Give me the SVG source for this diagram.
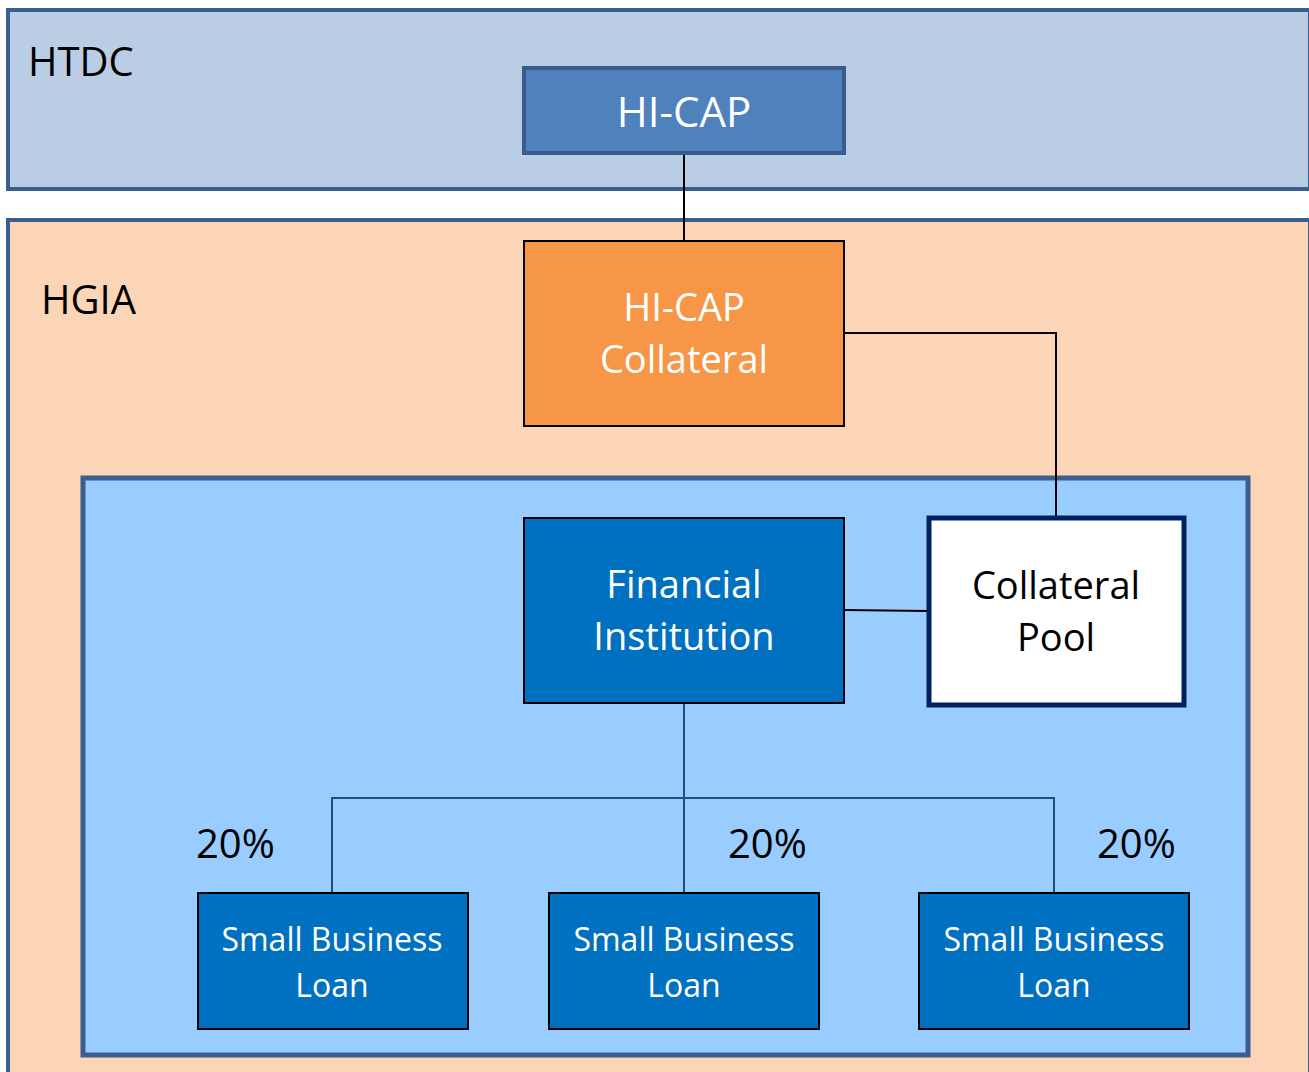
<svg xmlns="http://www.w3.org/2000/svg" width="1309" height="1072" viewBox="0 0 1309 1072">
<style>
text{font-family:"Open Sans","Liberation Sans",sans-serif;}
.w{fill:#fff;text-anchor:middle;}
.k{fill:#000;}
.big{font-size:38px;}
.sm{font-size:32px;}
.lbl{font-size:40px;}
.conn{fill:none;stroke:#000;stroke-width:2;}
.conn2{fill:none;stroke:#1f4e79;stroke-width:2;}
.box{fill:#0070c0;stroke:#000;stroke-width:2;}
</style>
<rect width="1309" height="1072" fill="#fff"/>
<g id="htdc">
<rect x="8" y="10" width="1302" height="179" fill="#b9cde5" stroke="#3a5f8f" stroke-width="4"/>
<text x="28" y="76" class="k lbl">HTDC</text>
</g>
<g id="hgia">
<rect x="8" y="220" width="1302" height="860" fill="#fbd5b5" stroke="#3a5f8f" stroke-width="4"/>
<text x="41" y="314" class="k lbl">HGIA</text>
</g>
<g id="inner">
<rect x="83" y="478" width="1165" height="577" fill="#99ccff" stroke="#3a5f8f" stroke-width="5"/>
</g>
<g id="connectors">
<line x1="684" y1="154" x2="684" y2="241" class="conn"/>
<polyline points="844,333 1056,333 1056,518" class="conn"/>
<line x1="844" y1="610" x2="928" y2="611" class="conn"/>
<line x1="684" y1="703" x2="684" y2="892" class="conn2"/>
<polyline points="332,892 332,798 1054,798 1054,892" class="conn2"/>
</g>
<g id="hicap">
<rect x="524" y="68" width="320" height="85" fill="#4f81bd" stroke="#385d8a" stroke-width="4"/>
<text x="684" y="127" class="w" font-size="42">HI-CAP</text>
</g>
<g id="hicap-collateral">
<rect x="524" y="241" width="320" height="185" fill="#f79646" stroke="#000" stroke-width="2"/>
<text x="684" y="321" class="w big">HI-CAP</text>
<text x="684" y="373" class="w big">Collateral</text>
</g>
<g id="financial-institution">
<rect x="524" y="518" width="320" height="185" class="box"/>
<text x="684" y="598" class="w big">Financial</text>
<text x="684" y="650" class="w big">Institution</text>
</g>
<g id="collateral-pool">
<rect x="929" y="518" width="255" height="187" fill="#fff" stroke="#002060" stroke-width="5"/>
<text x="1056" y="599" class="big" text-anchor="middle" fill="#000">Collateral</text>
<text x="1056" y="651" class="big" text-anchor="middle" fill="#000">Pool</text>
</g>
<g id="loan1">
<rect x="198" y="893" width="270" height="136" class="box"/>
<text x="332" y="951" class="w sm">Small Business</text>
<text x="332" y="997" class="w sm">Loan</text>
</g>
<g id="loan2">
<rect x="549" y="893" width="270" height="136" class="box"/>
<text x="684" y="951" class="w sm">Small Business</text>
<text x="684" y="997" class="w sm">Loan</text>
</g>
<g id="loan3">
<rect x="919" y="893" width="270" height="136" class="box"/>
<text x="1054" y="951" class="w sm">Small Business</text>
<text x="1054" y="997" class="w sm">Loan</text>
</g>
<g id="pct">
<text x="196" y="858" class="k lbl">20%</text>
<text x="728" y="858" class="k lbl">20%</text>
<text x="1097" y="858" class="k lbl">20%</text>
</g>
</svg>
